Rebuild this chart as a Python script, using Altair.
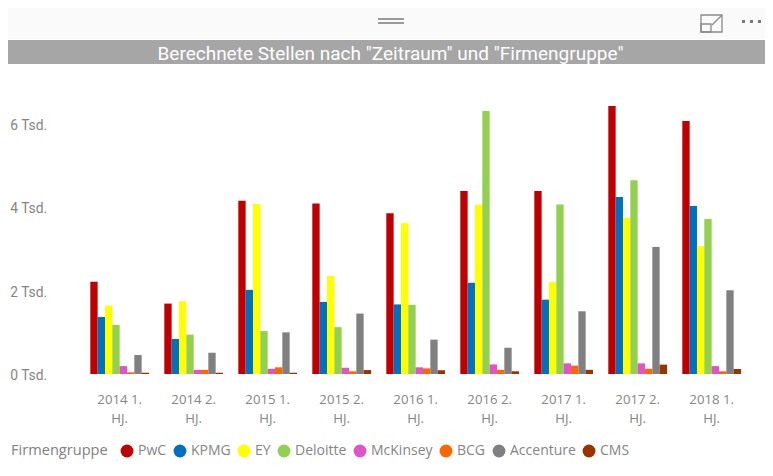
import altair as alt
import pandas as pd

periods = ["2014 1. HJ.", "2014 2. HJ.", "2015 1. HJ.", "2015 2. HJ.", "2016 1. HJ.",
           "2016 2. HJ.", "2017 1. HJ.", "2017 2. HJ.", "2018 1. HJ."]
firms = ["PwC", "KPMG", "EY", "Deloitte", "McKinsey", "BCG", "Accenture", "CMS"]
colors = ["#C00000", "#0070C0", "#FFFF00", "#92D050", "#E054C6", "#FF6600", "#808080", "#993300"]

pwc = [2215, 1690, 4160, 4090, 3860, 4390, 4390, 6430, 6070]
kpmg = [1370, 840, 2020, 1730, 1670, 2190, 1785, 4250, 4030]
ey = [1640, 1745, 4080, 2350, 3620, 4060, 2210, 3750, 3070]
deloitte = [1180, 945, 1030, 1125, 1660, 6310, 4070, 4650, 3720]
mckinsey = [190, 100, 125, 150, 160, 230, 255, 255, 190]
bcg = [40, 100, 160, 65, 135, 100, 200, 125, 65]
accenture = [455, 510, 1000, 1450, 825, 630, 1505, 3050, 2010]
cms = [30, 30, 30, 95, 90, 65, 100, 225, 120]
series = [pwc, kpmg, ey, deloitte, mckinsey, bcg, accenture, cms]

df = pd.DataFrame(
    [{"Zeitraum": p, "Firmengruppe": f, "Stellen": s[i]}
     for f, s in zip(firms, series) for i, p in enumerate(periods)]
)

PW, PH = 666, 291.67
OX, OY = 82.65, 82.33   # plot origin in page pixels
px = lambda v: alt.value(v - OX)
py = lambda v: alt.value(v - OY)
one = alt.Data(values=[{}])
LEFT, RIGHT = 8, 765

bars = alt.Chart(df).mark_bar(size=7.33).encode(
    x=alt.X("Zeitraum:N", sort=periods, title=None,
            scale=alt.Scale(paddingInner=0.207, paddingOuter=0.1035),
            axis=alt.Axis(domain=False, ticks=False, labelAngle=0, labelPadding=25,
                          labelFont="Open Sans", labelFontSize=13.2, labelColor="#858585",
                          labelLineHeight=19, labelBaseline="middle", labelAlign="center",
                          labelExpr="[slice(datum.label, 0, 7), 'HJ.']")),
    xOffset=alt.XOffset("Firmengruppe:N", sort=firms, scale=alt.Scale(paddingInner=0, paddingOuter=0)),
    y=alt.Y("Stellen:Q", title=None,
            scale=alt.Scale(domain=[0, 7000], nice=False),
            axis=alt.Axis(values=[0, 2000, 4000, 6000], domain=False, ticks=False, grid=False,
                          labelPadding=36, labelOffset=1.5, labelFont="Roboto", labelFontSize=13.8,
                          labelColor="#858585",
                          labelExpr="(datum.value / 1000) + ' Tsd.'")),
    color=alt.Color("Firmengruppe:N", sort=firms, scale=alt.Scale(domain=firms, range=colors),
                    legend=alt.Legend(orient="none", legendX=11 - OX, legendY=444 - OY,
                                      direction="horizontal", columns=8, titleOrient="left",
                                      title="Firmengruppe", titleFont="Open Sans", titleFontSize=14.6,
                                      titleFontWeight=500, titleColor="#7f7f7f", titlePadding=12,
                                      labelFont="Open Sans", labelFontSize=14, labelColor="#858585",
                                      labelOffset=4, symbolType="circle", symbolSize=165,
                                      symbolStrokeWidth=0, columnPadding=6)),
)

def rect(x0, x1, y0, y1, fill):
    return alt.Chart(one).mark_rect(fill=fill).encode(
        x=px(x0), x2=px(x1), y=py(y0), y2=py(y1))

def box(x0, x1, y0, y1, stroke):
    return alt.Chart(one).mark_rect(fill="transparent", stroke=stroke, strokeWidth=1.3).encode(
        x=px(x0), x2=px(x1), y=py(y0), y2=py(y1))

def line(x0, x1, y0, y1, stroke, w=1.3):
    return alt.Chart(one).mark_rule(stroke=stroke, strokeWidth=w).encode(
        x=px(x0), x2=px(x1), y=py(y0), y2=py(y1))

chrome = [
    rect(LEFT, RIGHT, 8, 39, "#fafafa"),
    rect(LEFT, RIGHT, 40, 64, "#a6a6a6"),
    rect(378, 404, 18, 20, "#9a9a9a"),
    rect(378, 404, 22, 24, "#9a9a9a"),
    box(701, 722, 15, 32, "#8a8a8a"),
    box(701, 711, 24, 32, "#8a8a8a"),
    line(712, 722, 25, 15, "#8a8a8a"),
    rect(742, 745, 20, 23, "#777777"),
    rect(750, 753, 20, 23, "#777777"),
    rect(758, 761, 20, 23, "#777777"),
]

title = alt.Chart(one).mark_text(font="Roboto", fontSize=19, color="#ffffff", align="center",
                                 baseline="middle").encode(
    x=px(390.5), y=py(53.5), text=alt.value('Berechnete Stellen nach "Zeitraum" und "Firmengruppe"'))

chart = alt.layer(*chrome, title, bars).properties(
    width=PW, height=PH,
    padding={"left": OX - 8, "top": OY - 8, "right": 765 - OX - PW, "bottom": 462 - OY - PH},
    autosize=alt.AutoSizeParams(type="none"),
).configure_view(stroke=None).resolve_scale(x="shared")

chart.save("out.html", embed_options={"renderer": "svg", "actions": False})
